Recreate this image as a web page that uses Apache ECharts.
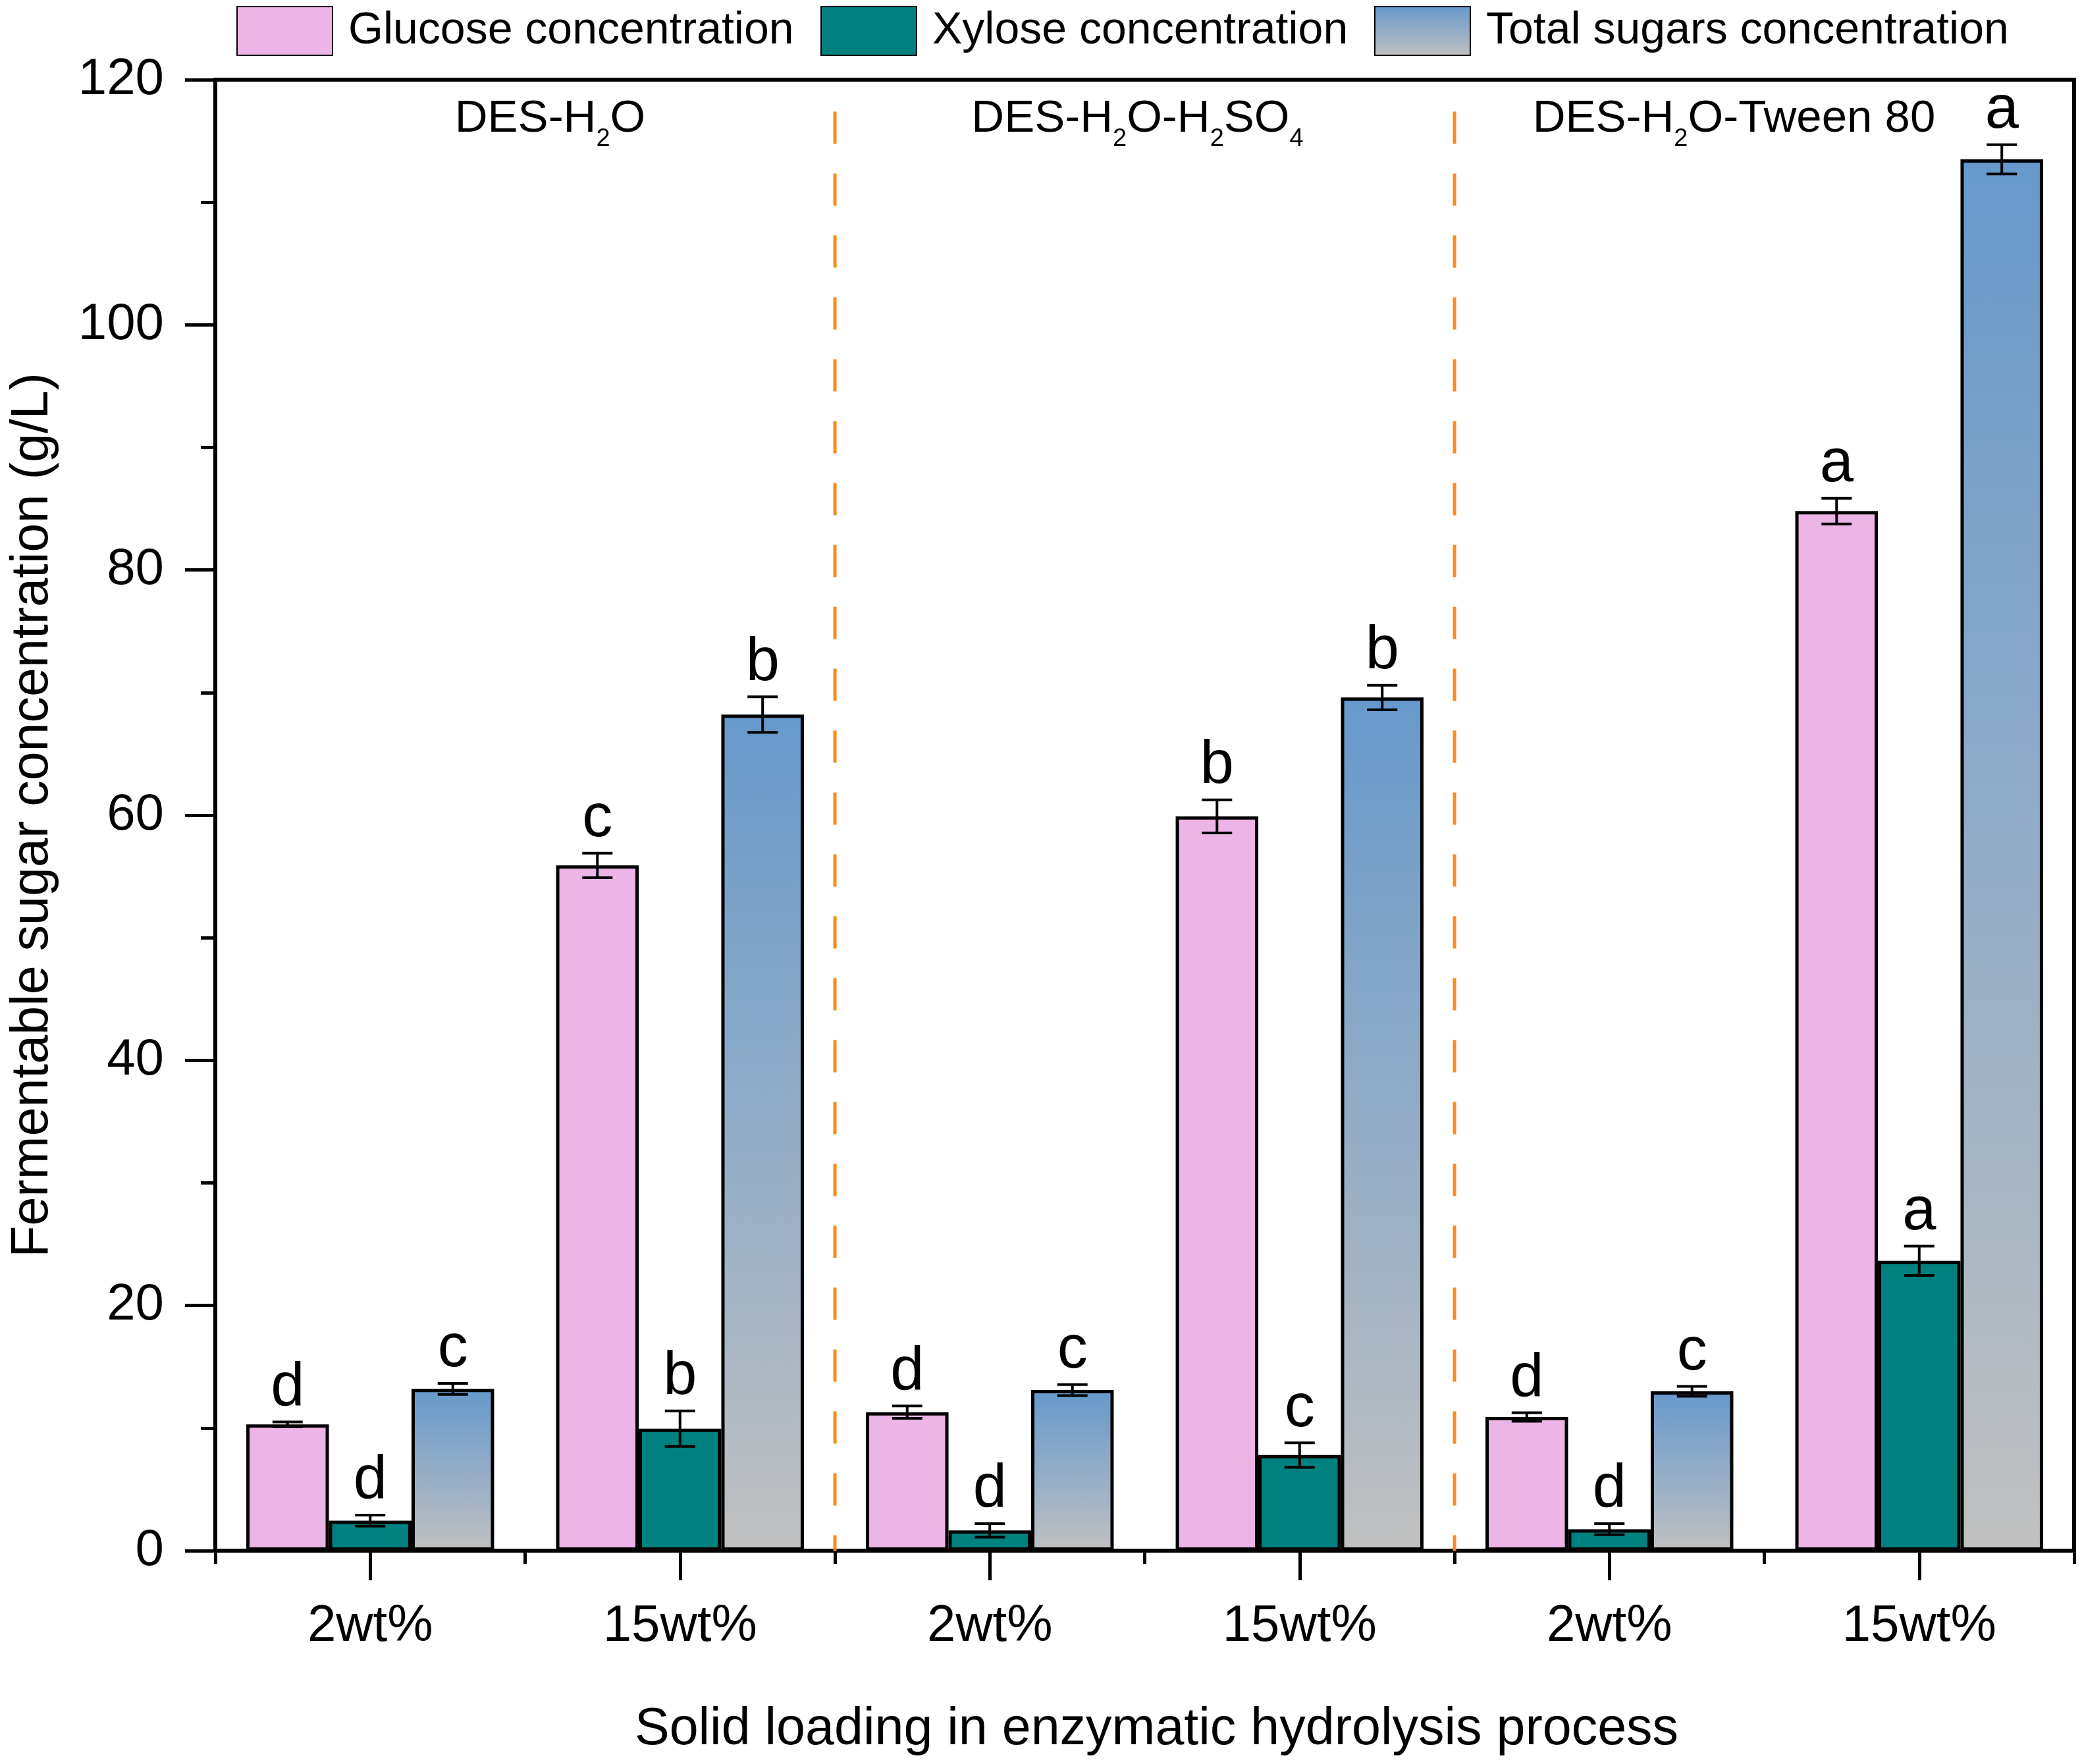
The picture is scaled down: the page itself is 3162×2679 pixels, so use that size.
<!DOCTYPE html>
<html>
<head>
<meta charset="utf-8">
<script src="https://cdn.jsdelivr.net/npm/echarts@6/dist/echarts.min.js"></script>
<style>
html,body{margin:0;padding:0;background:#fff;}
#chart{width:3162px;height:2679px;}
</style>
</head>
<body>
<div id="chart"></div>
<script>
// ---------- data ----------
const categories = ['2wt%', '15wt%', '2wt%', '15wt%', '2wt%', '15wt%'];
const groupNames = ['DES-H2O', 'DES-H2O-H2SO4', 'DES-H2O-Tween 80'];
const seriesNames = ['Glucose concentration', 'Xylose concentration', 'Total sugars concentration'];

const glucose = [10.3, 55.9, 11.3, 59.9, 10.9, 84.8];
const glucoseErr = [0.2, 1.0, 0.5, 1.35, 0.35, 1.05];
const glucoseLetters = ['d', 'c', 'd', 'b', 'd', 'a'];

const xylose = [2.45, 9.95, 1.65, 7.8, 1.75, 23.65];
const xyloseErr = [0.45, 1.45, 0.55, 1.0, 0.45, 1.2];
const xyloseLetters = ['d', 'b', 'd', 'c', 'd', 'a'];

const total = [13.2, 68.2, 13.1, 69.6, 13.0, 113.5];
const totalErr = [0.45, 1.45, 0.45, 1.0, 0.4, 1.2];
const totalLetters = ['c', 'b', 'c', 'b', 'c', 'a'];

const yMin = 0, yMax = 120, yInterval = 20;
const dividerTop = 117.4;

// ---------- styles ----------
const FONT = 'Liberation Sans, Arial, Helvetica, sans-serif';
const pink = '#EDB4E6';
const teal = '#00807E';
const totalGrad = new echarts.graphic.LinearGradient(0, 0, 0, 1, [
  { offset: 0, color: '#6699CC' },
  { offset: 1, color: '#C0C0C0' }
]);
const colors = [pink, teal, totalGrad];
const values = [glucose, xylose, total];
const errs = [glucoseErr, xyloseErr, totalErr];
const letters = [glucoseLetters, xyloseLetters, totalLetters];

const chart = echarts.init(document.getElementById('chart'), null, { renderer: 'canvas' });

const series = [];
// bars
values.forEach((arr, k) => {
  series.push({
    name: seriesNames[k],
    type: 'bar',
    xAxisIndex: 0,
    yAxisIndex: 0,
    data: arr,
    barGap: '0%',
    barCategoryGap: '20%',
    itemStyle: { color: colors[k], borderColor: '#000', borderWidth: 5 },
    z: 2
  });
});
// error bars + letters
values.forEach((arr, k) => {
  series.push({
    type: 'custom',
    xAxisIndex: 0,
    yAxisIndex: 0,
    silent: true,
    z: 5,
    data: arr.map((v, i) => [i, v, errs[k][i]]),
    renderItem: function (params, api) {
      const ci = api.value(0), v = api.value(1), e = api.value(2);
      const letter = letters[k][params.dataIndex];
      const band = api.size([1, 0])[0];
      const bw = band * 0.8 / 3;
      const cx = api.coord([ci, 0])[0] + (k - 1) * bw;
      const yTop = api.coord([ci, v + e])[1];
      const yBot = api.coord([ci, v - e])[1];
      const half = 23;
      const st = { stroke: '#000', lineWidth: 4 };
      return {
        type: 'group',
        children: [
          { type: 'line', shape: { x1: cx, y1: yTop, x2: cx, y2: yBot }, style: st },
          { type: 'line', shape: { x1: cx - half, y1: yTop, x2: cx + half, y2: yTop }, style: st },
          { type: 'line', shape: { x1: cx - half, y1: yBot, x2: cx + half, y2: yBot }, style: st },
          { type: 'text', style: { text: letter, x: cx, y: yTop - 5, align: 'center', verticalAlign: 'bottom',
            font: '92px ' + FONT, fill: '#000' } }
        ]
      };
    }
  });
});
// orange dashed dividers between groups
for (let g = 1; g < groupNames.length; g++) {
  series.push({
    type: 'line',
    xAxisIndex: 2,
    yAxisIndex: 0,
    silent: true,
    symbol: 'none',
    data: [[2 * g, dividerTop], [2 * g, 0]],
    lineStyle: { color: '#FF8A14', width: 5, type: [49, 45] },
    z: 1
  });
}
// group titles
const groupOffsets = [38, -11, -46];
series.push({
  type: 'scatter',
  xAxisIndex: 2,
  yAxisIndex: 0,
  silent: true,
  symbolSize: 0,
  itemStyle: { opacity: 1 },
  data: groupNames.map((n, g) => ({
    value: [2 * g + 1, yMax],
    label: { offset: [groupOffsets[g], 0] }
  })),
  label: {
    show: true,
    position: 'bottom',
    distance: 10,
    color: '#000',
    opacity: 1,
    fontFamily: FONT,
    fontSize: 69,
    lineHeight: 100,
    formatter: (p) => groupNames[p.dataIndex].replace(/([A-Z])(\d)/g, '$1{s|$2}'),
    rich: {
      s: { fontSize: 38, lineHeight: 38, verticalAlign: 'bottom', fontFamily: FONT, color: '#000' }
    }
  },
  z: 3
});

const legendLefts = [359, 1246, 2087];
const option = {
  backgroundColor: '#fff',
  animation: false,
  textStyle: { fontFamily: FONT, color: '#000' },
  legend: seriesNames.map((n, k) => ({
    data: [n],
    left: legendLefts[k],
    top: 9,
    padding: 0,
    icon: 'rect',
    itemWidth: 145,
    itemHeight: 74,
    selectedMode: false,
    textStyle: { fontFamily: FONT, fontSize: 68, color: '#000', padding: [0, 0, 0, 19] }
  })),
  grid: {
    left: 327, right: 12, top: 121, bottom: 324,
    show: true, borderColor: '#000', borderWidth: 6, backgroundColor: 'transparent'
  },
  xAxis: [
    {
      type: 'category',
      data: categories,
      position: 'bottom',
      boundaryGap: true,
      axisLine: { show: true, lineStyle: { color: '#000', width: 6 } },
      axisTick: { show: true, length: 20, lineStyle: { color: '#000', width: 5 } },
      axisLabel: { fontFamily: FONT, fontSize: 78, color: '#000', margin: 76 },
      name: 'Solid loading in enzymatic hydrolysis process',
      nameLocation: 'middle',
      nameGap: 233,
      nameTextStyle: { fontFamily: FONT, fontSize: 79, color: '#000', padding: [0, 0, 0, 36] },
      splitLine: { show: false }
    },
    {
      type: 'category',
      data: categories,
      position: 'bottom',
      boundaryGap: true,
      axisLine: { show: false },
      axisTick: { show: true, alignWithLabel: true, length: 45, lineStyle: { color: '#000', width: 5 } },
      axisLabel: { show: false },
      splitLine: { show: false }
    },
    {
      type: 'value',
      min: 0,
      max: categories.length,
      show: false,
      position: 'top'
    }
  ],
  yAxis: [
    {
      type: 'value',
      min: yMin,
      max: yMax,
      interval: yInterval,
      axisLine: { show: true, lineStyle: { color: '#000', width: 6 } },
      axisTick: { show: true, length: 46, lineStyle: { color: '#000', width: 5 } },
      minorTick: { show: true, splitNumber: 2, length: 22, lineStyle: { color: '#000', width: 5 } },
      axisLabel: { fontFamily: FONT, fontSize: 78, color: '#000', margin: 78 },
      splitLine: { show: false },
      name: 'Fermentable sugar concentration (g/L)',
      nameLocation: 'middle',
      nameRotate: 90,
      nameGap: 237,
      nameTextStyle: { fontFamily: FONT, fontSize: 79, color: '#000' }
    }
  ],
  series: series
};
chart.setOption(option);
</script>
</body>
</html>
